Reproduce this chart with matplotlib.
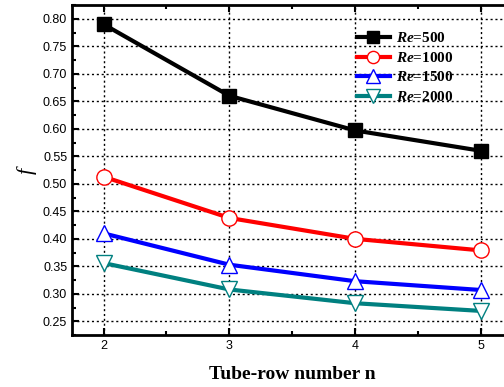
import numpy as np
import matplotlib.pyplot as plt
from matplotlib.ticker import MultipleLocator

n = [2, 3, 4, 5]
f_500 = [0.790, 0.660, 0.597, 0.560]
f_1000 = [0.513, 0.438, 0.400, 0.379]
f_1500 = [0.410, 0.353, 0.323, 0.307]
f_2000 = [0.356, 0.308, 0.283, 0.269]
labels = [r'$\mathbfit{Re}$=500', r'$\mathbfit{Re}$=1000',
          r'$\mathbfit{Re}$=1500', r'$\mathbfit{Re}$=2000']

plt.rcParams['mathtext.fontset'] = 'custom'
plt.rcParams['mathtext.bfit'] = 'Liberation Serif:bold:italic'
plt.rcParams['mathtext.it'] = 'Liberation Serif:italic'

fig = plt.figure(figsize=(5.04, 3.87), dpi=100)
ax = fig.add_axes([0.143, 0.134, 0.874, 0.853])

ax.plot(n, f_500, color='black', lw=3, marker='s', ms=10, mfc='black', mec='black', label=labels[0])
ax.plot(n, f_1000, color='red', lw=3, marker='o', ms=11, mfc='white', mec='red', label=labels[1])
ax.plot(n, f_1500, color='blue', lw=3, marker='^', ms=12, mfc='white', mec='blue', label=labels[2])
ax.plot(n, f_2000, color='#008080', lw=3, marker='v', ms=12, mfc='white', mec='#008080', label=labels[3])

ax.set_xlim(1.75, 5.25)
ax.set_ylim(0.225, 0.825)
ax.xaxis.set_major_locator(MultipleLocator(1))
ax.xaxis.set_minor_locator(MultipleLocator(0.5))
ax.yaxis.set_major_locator(MultipleLocator(0.05))
ax.yaxis.set_minor_locator(MultipleLocator(0.025))
ax.yaxis.set_major_formatter(plt.FormatStrFormatter('%.2f'))
ax.tick_params(which='both', direction='in', top=True, right=False, labelsize=9, width=1.5)
ax.tick_params(which='major', length=5)
ax.tick_params(which='minor', length=3)
for lab in ax.get_xticklabels() + ax.get_yticklabels():
    lab.set_family('Liberation Sans')
for s in ax.spines.values():
    s.set_linewidth(2)
ax.spines['right'].set_visible(False)

ax.grid(True, which='major', color='black', linestyle=(0, (1.5, 2)), linewidth=1)

ax.set_xlabel('Tube-row number n', family='Liberation Serif', weight='bold', fontsize=14, labelpad=10)
ax.set_ylabel('$f$', family='Liberation Serif', fontsize=16, labelpad=3)

leg = ax.legend(loc='upper left', bbox_to_anchor=(0.647, 0.92), frameon=False,
                prop={'family': 'Liberation Serif', 'weight': 'bold', 'size': 11},
                handlelength=2.15, labelspacing=0.36, handletextpad=0.4, borderaxespad=0,
                borderpad=0, markerscale=0.8)

fig.savefig('out.png', dpi=100)
